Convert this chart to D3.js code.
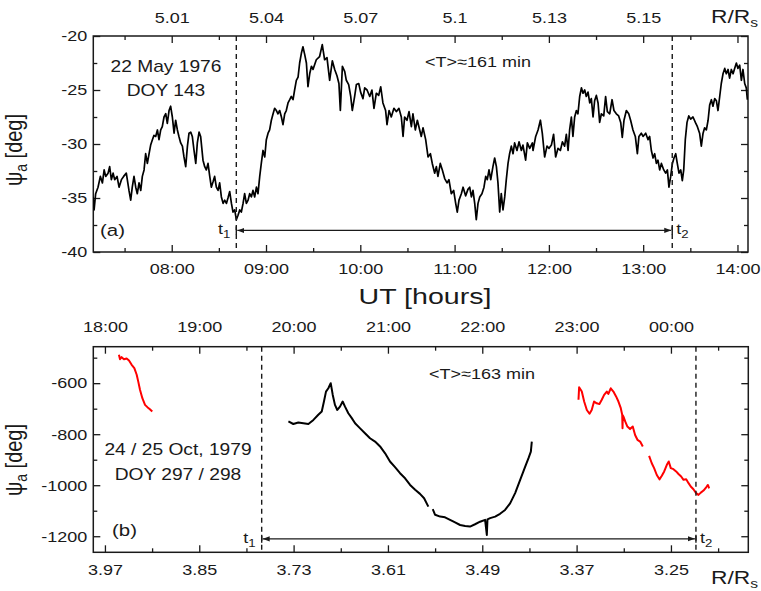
<!DOCTYPE html>
<html>
<head>
<meta charset="utf-8">
<script src="https://cdn.jsdelivr.net/npm/d3@7"></script>
<style>
  body { margin: 0; background: #fff; }
  svg { display: block; }
  text { font-family: "Liberation Sans", Arial, sans-serif; fill: #1a1a1a; }
</style>
</head>
<body>
<svg id="chart" width="761" height="591"></svg>
<script>
// ---------- Panel (a): 22 May 1976, UT in minutes after midnight ----------
const timeA = [
  429.9,430.6,431.6,433.1,434.6,435.9,437.0,438.0,439.5,440.5,441.6,442.7,443.7,445.2,446.5,448.0,449.4,451.1,452.8,453.9,
  454.9,456.0,457.1,458.1,459.2,460.3,461.3,462.4,463.4,464.5,465.6,466.6,467.7,468.7,469.8,470.9,471.9,473.0,474.0,475.1,
  476.2,477.2,478.3,479.3,480.4,481.5,482.5,483.6,484.6,485.7,486.8,487.8,488.9,490.0,491.0,492.1,493.1,494.2,495.3,496.3,
  497.4,498.4,
  499.9,501.0,502.0,503.1,504.2,505.2,506.3,507.3,508.4,509.5,510.5,511.6,512.7,513.7,514.8,515.8,516.9,518.0,519.0,520.1,
  521.1,522.2,523.3,524.3,525.4,526.4,527.5,528.6,529.6,530.7,531.7,532.8,533.9,534.9,536.0,537.0,538.1,539.2,540.2,541.3,
  542.3,543.4,544.5,545.5,546.6,547.6,548.7,549.8,550.8,551.9,552.9,554.0,555.1,556.1,557.2,558.2,559.3,560.4,561.4,562.5,
  563.5,564.6,565.7,566.7,567.8,568.9,
  569.9,572.0,574.1,575.8,577.3,578.8,580.5,582.2,583.7,585.2,586.4,587.3,588.6,590.1,591.1,592.6,593.9,594.9,596.4,597.5,
  599.0,600.2,601.7,602.8,604.3,606.0,607.4,608.7,610.2,611.7,613.0,614.4,616.1,617.0,618.3,619.7,621.4,622.9,624.6,626.1,
  627.2,628.2,629.7,631.0,632.5,633.5,635.0,636.3,637.8,638.8,
  639.9,641.6,643.1,644.6,645.8,647.3,648.4,649.4,650.9,652.2,653.7,655.2,656.4,657.9,659.4,660.7,661.7,662.8,664.3,665.4,
  667.0,668.5,669.6,670.7,671.7,672.8,673.8,674.9,676.0,677.4,678.7,679.8,680.8,681.9,683.0,684.4,685.5,686.6,687.6,688.7,
  689.7,690.8,691.9,692.9,694.0,695.0,696.1,697.2,698.2,699.7,701.0,702.5,703.5,705.2,706.3,707.8,709.5,
  709.9,711.6,713.1,714.6,715.8,717.3,718.8,720.1,721.6,723.0,724.3,725.8,727.3,728.6,730.0,731.1,732.2,733.2,734.3,735.3,
  736.4,737.5,738.5,739.6,740.7,741.7,742.8,743.8,744.9,746.0,747.0,748.1,749.1,750.2,751.3,752.3,753.4,754.9,756.1,757.2,
  758.7,760.2,761.4,762.9,764.4,765.7,766.7,767.8,769.3,770.8,772.0,773.5,775.0,776.3,777.3,778.8,
  779.9,781.6,783.1,784.1,785.2,786.3,787.3,788.4,789.4,790.5,791.6,793.1,794.3,795.4,796.4,797.5,798.6,799.6,800.7,801.7,
  802.8,803.9,804.9,805.8,806.8,807.9,809.0,810.2,811.7,813.2,814.5,815.9,817.0,818.1,819.1,820.2,821.3,822.3,823.4,824.4,
  825.5,826.6,827.6,828.7,829.7,830.8,831.9,832.9,834.0,835.0,836.1,837.2,838.2,839.3,840.3,841.4,842.5,843.5,844.6,845.6,
  846.3
];
const psiA = [
  -34.9,-36.1,-34.6,-34.0,-33.0,-33.6,-32.4,-33.0,-32.7,-32.1,-33.3,-32.7,-33.3,-33.0,-34.0,-33.3,-33.0,-32.7,-34.3,-35.2,
  -34.0,-33.0,-34.0,-34.6,-33.6,-34.3,-33.0,-32.4,-30.9,-31.8,-30.9,-30.1,-29.6,-29.2,-29.3,-28.7,-29.6,-28.7,-28.4,-27.5,
  -27.2,-28.1,-26.9,-26.5,-27.5,-29.0,-27.8,-28.7,-29.3,-29.9,-30.2,-31.2,-32.1,-30.2,-29.0,-28.9,-29.3,-30.6,-31.8,-29.9,
  -28.9,-29.3,
  -31.5,-32.1,-32.4,-31.8,-33.0,-34.0,-33.5,-33.0,-34.0,-34.3,-33.6,-34.9,-35.5,-35.2,-35.5,-35.0,-34.4,-35.5,-36.3,-36.1,
  -37.0,-36.6,-36.1,-36.3,-35.5,-34.6,-35.5,-35.2,-34.6,-34.9,-34.3,-34.9,-34.0,-34.6,-33.0,-31.8,-30.6,-31.2,-29.6,-29.0,
  -28.7,-27.8,-27.2,-26.7,-26.9,-27.2,-26.9,-27.5,-28.2,-27.2,-26.9,-26.2,-25.9,-25.6,-25.9,-25.0,-24.1,-23.8,-22.5,-21.6,
  -21.0,-21.7,-22.5,-24.7,-23.5,-22.8,
  -23.1,-22.2,-21.9,-20.8,-22.2,-22.0,-24.1,-22.3,-23.1,-23.7,-24.4,-26.9,-22.8,-23.3,-24.1,-24.5,-25.6,-26.9,-25.6,-24.5,
  -24.4,-25.2,-25.8,-24.8,-25.0,-25.6,-25.0,-26.7,-25.3,-25.5,-24.7,-26.2,-26.9,-28.2,-26.9,-27.5,-26.7,-27.0,-26.7,-27.5,
  -29.3,-27.5,-27.8,-27.0,-28.4,-27.2,-28.7,-27.8,-28.7,-29.3,
  -28.5,-29.6,-31.2,-30.9,-31.8,-32.7,-32.1,-33.0,-31.8,-32.4,-33.2,-33.6,-33.3,-34.6,-34.3,-35.5,-36.3,-35.2,-34.6,-34.0,
  -34.8,-34.2,-34.0,-34.9,-34.3,-35.5,-37.0,-35.5,-34.9,-34.6,-34.0,-33.0,-33.3,-32.4,-33.3,-32.1,-31.3,-32.1,-33.6,-36.3,
  -34.6,-36.1,-34.9,-33.3,-31.8,-30.9,-30.2,-30.9,-29.9,-30.6,-29.8,-30.6,-30.1,-31.5,-29.9,-30.4,-29.9,
  -30.6,-29.3,-28.7,-27.8,-29.0,-31.2,-30.2,-30.4,-30.1,-29.1,-31.2,-30.4,-30.6,-29.8,-30.2,-29.1,-30.6,-28.7,-27.5,-29.3,
  -27.5,-26.9,-27.2,-25.6,-24.8,-25.3,-25.0,-25.6,-25.2,-26.2,-25.8,-27.5,-26.0,-25.5,-26.2,-28.0,-27.2,-27.4,-25.6,-27.0,
  -27.2,-25.9,-26.9,-27.2,-27.4,-28.0,-29.4,-27.8,-26.9,-27.2,-27.8,-28.7,-29.3,-30.9,-29.3,-29.0,
  -29.3,-29.0,-29.6,-29.3,-30.6,-31.3,-30.9,-31.8,-31.5,-32.4,-31.8,-32.4,-32.7,-32.4,-34.0,-33.0,-31.8,-31.3,-30.9,-31.8,
  -32.7,-32.4,-33.4,-32.4,-29.6,-28.0,-27.4,-27.7,-27.5,-28.0,-28.4,-29.0,-30.2,-29.0,-28.5,-28.7,-27.8,-26.4,-25.9,-26.5,
  -25.8,-26.0,-26.9,-25.6,-24.4,-23.5,-23.0,-23.5,-23.1,-23.9,-23.1,-23.5,-23.0,-22.5,-23.0,-22.7,-24.1,-23.1,-24.4,-24.8,
  -25.9
];
const hourTicksA = [480, 540, 600, 660, 720, 780, 840];
const hourLabelsA = ["08:00", "09:00", "10:00", "11:00", "12:00", "13:00", "14:00"];
const radiusLabelsA = ["5.01", "5.04", "5.07", "5.1", "5.13", "5.15", ""];
const halfHourTicksA = [450, 510, 570, 630, 690, 750, 810];
const psiTicksA = [-20, -25, -30, -35, -40];
const psiMinorA = [-22.5, -27.5, -32.5, -37.5];
const intervalA = [521.1, 798.5];   // t1, t2 in minutes
const arrowLevelA = -38;

// ---------- Panel (b): 24/25 Oct 1979, UT in minutes after 24 Oct 00:00 ----------
const timeB = [
  1196.7,1199.8,1203.0,1206.2,1209.4,1212.6,1215.7,1217.9,1219.3,1220.6,1222.1,1223.6,1224.9,1226.3,1227.8,1229.5,1231.2,
  1232.7,1234.8,1237.0,1239.1,1242.3,1245.4,1248.6,1251.8,1255.0,1258.2,1261.3,1264.5,1267.7,1270.9,1274.1,1277.3,1280.4,
  1283.0,1285.7,1287.0,
  1288.5,1290.0,1293.2,1296.3,1299.5,1302.7,1305.9,1309.1,1312.2,1315.4,1318.6,1321.8,1322.9,1323.3,1325.0,1328.2,1331.3,
  1334.5,1337.7,1340.9,1344.1,1347.3,1349.4,1350.9,1351.5
];
const psiB = [
  -750,-760,-754,-757,-760,-744,-724,-711,-672,-633,-620,-600,-646,-685,-705,-692,-672,
  -692,-718,-737,-757,-777,-796,-816,-829,-848,-875,-907,-929,-953,-973,-999,-1018,-1034,
  -1051,-1084,null,
  -1094,-1116,-1123,-1126,-1136,-1146,-1156,-1160,-1162,-1153,-1143,-1136,-1195,-1134,-1129,-1123,-1112,
  -1097,-1071,-1031,-979,-927,-894,-868,-829
];
const timeR1 = [1088.9,1089.6,1090.6,1092.1,1093.8,1095.3,1097.0,1098.7,1100.2,1101.2,1102.3,1103.8,1105.5,1107.0,1108.6,1110.1];
const psiR1 = [-489,-506,-498,-506,-503,-511,-528,-541,-567,-594,-626,-659,-685,-694,-702,-711];
const timeR2 = [
  1381.2,1381.6,1383.3,1384.8,1386.5,1388.2,1389.6,1391.1,1392.8,1394.5,1396.0,1397.5,1399.2,1400.2,1401.7,1403.4,1405.1,
  1406.6,1408.1,1409.0,1409.2,1409.4,1409.8,1410.9,1412.3,1414.0,1415.7,1417.2,1418.7,1420.4,1422.1,1424.0,
  1426.1,1427.8,1429.3,1431.0,1432.7,1434.2,1435.7,1437.4,1438.6,1439.9,1441.6,1443.3,1444.8,1446.5,1448.0,1449.7,1451.2,
  1452.6,1454.3,1456.0,1457.5,1459.0,1460.7,1462.4,1463.5,1464.3
];
const psiR2 = [
  -665,-616,-633,-672,-705,-720,-705,-672,-679,-682,-665,-646,-633,-642,-620,-633,-652,
  -672,-698,-724,-777,-726,-731,-750,-770,-780,-770,-803,-822,-829,-848,null,
  -885,-914,-933,-960,-977,-963,-946,-920,-907,-933,-937,-946,-956,-966,-979,-977,-992,
  -1005,-1016,-1031,-1038,-1029,-1021,-1008,-999,-1012
];
const hourTicksB = [1080, 1140, 1200, 1260, 1320, 1380, 1440];
const hourLabelsB = ["18:00", "19:00", "20:00", "21:00", "22:00", "23:00", "00:00"];
const radiusLabelsB = ["3.97", "3.85", "3.73", "3.61", "3.49", "3.37", "3.25"];
const halfHourTicksB = [1110, 1170, 1230, 1290, 1350, 1410, 1470];
const psiTicksB = [-600, -800, -1000, -1200];
const psiMinorB = [-500, -700, -900, -1100];
const intervalB = [1179.7, 1455.9];
const arrowLevelB = -1210;

// ---------- layout ----------
const SX = 1.2;               // horizontal glyph stretch used for all lettering
const INK = "#1a1a1a";
const TICK_FONT = 15;
const svg = d3.select("#chart");

const boxA = { left: 93.3, right: 748, top: 36, bottom: 252 };
const boxB = { left: 93.3, right: 748.3, top: 346.7, bottom: 552.3 };

const xA = d3.scaleLinear().domain([430.1, 846.7]).range([boxA.left, boxA.right]);
const yA = d3.scaleLinear().domain([-40, -20]).range([boxA.bottom, boxA.top]);
const xB = d3.scaleLinear().domain([1072.6, 1489.2]).range([boxB.left, boxB.right]);
const yB = d3.scaleLinear().domain([-1263, -457]).range([boxB.bottom, boxB.top]);

// plain hyphen for negative numbers
const fmtY = d => String(d);

// arrowheads
const defs = svg.append("defs");
defs.append("marker").attr("id", "head").attr("viewBox", "0 -3 7 6")
  .attr("refX", 7).attr("refY", 0).attr("markerWidth", 7).attr("markerHeight", 6)
  .attr("markerUnits", "userSpaceOnUse").attr("orient", "auto-start-reverse")
  .append("path").attr("d", "M0,-2.6L7,0L0,2.6Z").attr("fill", INK);

function stretched(parent, x, y, size, anchor, sx) {
  return parent.append("text")
    .attr("transform", `translate(${x},${y}) scale(${sx || SX},1)`)
    .attr("text-anchor", anchor || "middle")
    .style("font-size", size + "px");
}
function withSub(t, main, sub, subSize, drop) {
  t.append("tspan").text(main);
  t.append("tspan").text(sub).style("font-size", subSize + "px").attr("dy", drop);
  return t;
}

function axisGroup(gen, tx, ty) {
  const g = svg.append("g").attr("transform", `translate(${tx},${ty})`).call(gen);
  g.select(".domain").remove();
  g.selectAll("line").attr("stroke", INK).attr("stroke-width", 1.3);
  g.selectAll("text").attr("transform", `scale(${SX},1)`).style("font-size", TICK_FONT + "px")
    .style("font-family", '"Liberation Sans", Arial, sans-serif').attr("fill", INK);
  return g;
}

function panel(box, x, y, cfg) {
  const w = box.right - box.left, h = box.bottom - box.top;
  // ticks: bottom, top, left, right (all pointing inward)
  axisGroup(d3.axisBottom(x).tickValues(cfg.bottomTicks).tickSize(-7).tickPadding(cfg.bottomPad)
    .tickFormat((d, i) => cfg.bottomLabels[i]), 0, box.bottom);
  axisGroup(d3.axisBottom(x).tickValues(cfg.minorX).tickSize(-4).tickFormat(""), 0, box.bottom);
  axisGroup(d3.axisTop(x).tickValues(cfg.bottomTicks).tickSize(-7).tickPadding(cfg.topPad)
    .tickFormat((d, i) => cfg.topLabels[i]), 0, box.top);
  axisGroup(d3.axisTop(x).tickValues(cfg.minorX).tickSize(-4).tickFormat(""), 0, box.top);
  axisGroup(d3.axisLeft(y).tickValues(cfg.yTicks).tickSize(-7).tickPadding(5)
    .tickFormat(fmtY), box.left, 0);
  axisGroup(d3.axisLeft(y).tickValues(cfg.yMinor).tickSize(-4).tickFormat(""), box.left, 0);
  axisGroup(d3.axisRight(y).tickValues(cfg.yTicks).tickSize(-7).tickFormat(""), box.right, 0);
  axisGroup(d3.axisRight(y).tickValues(cfg.yMinor).tickSize(-4).tickFormat(""), box.right, 0);

  // frame
  svg.append("rect").attr("x", box.left).attr("y", box.top).attr("width", w).attr("height", h)
    .attr("fill", "none").attr("stroke", INK).attr("stroke-width", 1.5);

  // clip for data
  const clipId = "clip" + cfg.id;
  defs.append("clipPath").attr("id", clipId).append("rect")
    .attr("x", box.left).attr("y", box.top).attr("width", w).attr("height", h);
  const plot = svg.append("g").attr("clip-path", `url(#${clipId})`);

  const line = d3.line().defined(d => d[1] != null).x(d => x(d[0])).y(d => y(d[1]));
  cfg.series.forEach(s => {
    plot.append("path").datum(d3.zip(s.t, s.v)).attr("d", line)
      .attr("fill", "none").attr("stroke", s.color).attr("stroke-width", s.width)
      .attr("stroke-linejoin", "round");
  });

  // interval markers
  cfg.interval.forEach(t => {
    svg.append("line").attr("x1", x(t)).attr("x2", x(t)).attr("y1", box.top).attr("y2", box.bottom)
      .attr("stroke", INK).attr("stroke-width", 1.4).attr("stroke-dasharray", "5,4");
    svg.append("line").attr("x1", x(t)).attr("x2", x(t))
      .attr("y1", y(cfg.arrowLevel) - 4).attr("y2", y(cfg.arrowLevel) + 4)
      .attr("stroke", INK).attr("stroke-width", 1.4);
  });
  const ay = y(cfg.arrowLevel);
  svg.append("line").attr("x1", x(cfg.interval[0]) + 1).attr("x2", x(cfg.interval[1]) - 1)
    .attr("y1", ay).attr("y2", ay).attr("stroke", INK).attr("stroke-width", 1.2)
    .attr("marker-start", "url(#head)").attr("marker-end", "url(#head)");
  withSub(stretched(svg, x(cfg.interval[0]) - 6, ay + 4, 15, "end"), "t", "1", 11, 4);
  withSub(stretched(svg, x(cfg.interval[1]) + 4, ay + 4, 15, "start"), "t", "2", 11, 4);
}

panel(boxA, xA, yA, {
  id: "A",
  bottomTicks: hourTicksA, bottomLabels: hourLabelsA, bottomPad: 11,
  topLabels: radiusLabelsA, topPad: 13,
  minorX: halfHourTicksA, yTicks: psiTicksA, yMinor: psiMinorA,
  series: [{ t: timeA, v: psiA, color: "#000", width: 1.7 }],
  interval: intervalA, arrowLevel: arrowLevelA
});

panel(boxB, xB, yB, {
  id: "B",
  bottomTicks: hourTicksB, bottomLabels: radiusLabelsB, bottomPad: 12,
  topLabels: hourLabelsB, topPad: 15,
  minorX: halfHourTicksB, yTicks: psiTicksB, yMinor: psiMinorB,
  series: [
    { t: timeR1, v: psiR1, color: "#ff0000", width: 2 },
    { t: timeB, v: psiB, color: "#000", width: 2 },
    { t: timeR2, v: psiR2, color: "#ff0000", width: 2 }
  ],
  interval: intervalB, arrowLevel: arrowLevelB
});

// ---------- annotations ----------
stretched(svg, 166, 72, 16).text("22 May 1976");
stretched(svg, 166, 96, 16).text("DOY 143");
stretched(svg, 100, 236, 17, "start").text("(a)");
stretched(svg, 478, 67, 15).text("<T>\u2248161 min");

stretched(svg, 178, 455, 16).text("24 / 25 Oct, 1979");
stretched(svg, 178, 480, 16).text("DOY 297 / 298");
stretched(svg, 112, 536, 17, "start").text("(b)");
stretched(svg, 482, 379, 15).text("<T>\u2248163 min");

// axis titles
stretched(svg, 425, 304, 22, "middle", 1.3).text("UT [hours]");
withSub(stretched(svg, 758, 23, 19, "end"), "R/R", "s", 13, 4);
withSub(stretched(svg, 758, 584, 19, "end"), "R/R", "s", 13, 4);

function yTitle(cx, cy) {
  const t = svg.append("text")
    .attr("transform", `translate(${cx},${cy}) scale(${SX},1) rotate(-90)`)
    .attr("text-anchor", "middle").style("font-size", "20px");
  t.append("tspan").text("\u03c8");
  t.append("tspan").text("a").style("font-size", "14px").attr("dy", 4);
  t.append("tspan").text(" [deg]").attr("dy", -4);
}
yTitle(22, 150);
yTitle(22, 460);
</script>
</body>
</html>
